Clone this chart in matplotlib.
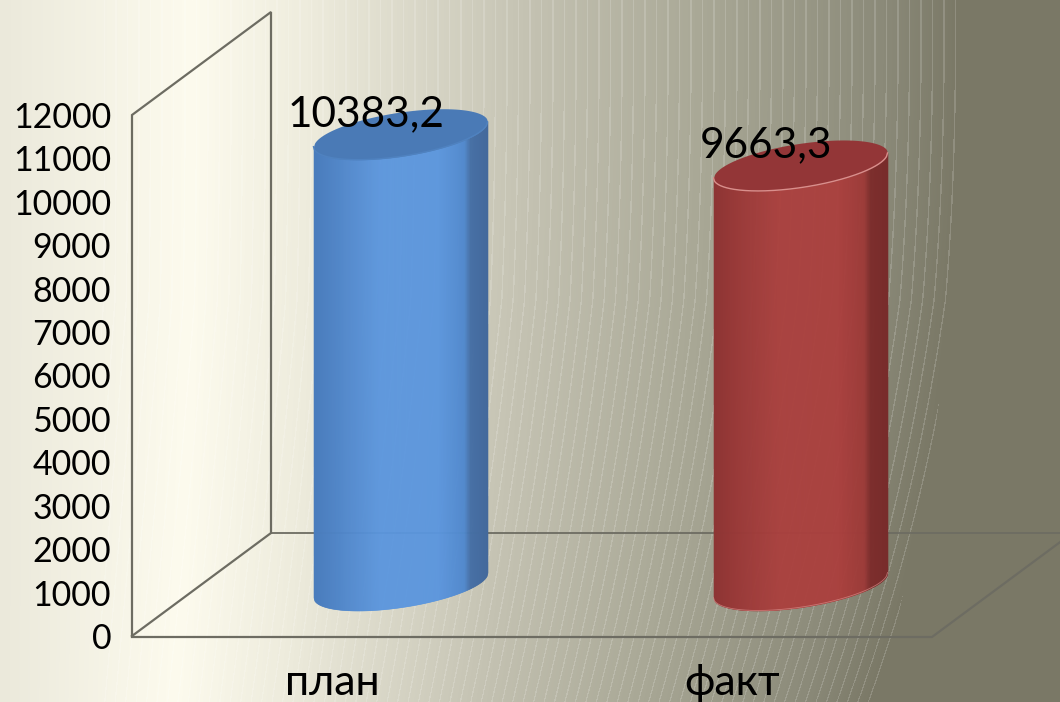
import matplotlib
matplotlib.use("Agg")
from matplotlib import pyplot
from matplotlib.colors import LinearSegmentedColormap, to_rgb
from matplotlib.transforms import Affine2D
import numpy

categories = ["план", "факт"]
values = [10383.2, 9663.3]
value_labels = ["10383,2", "9663,3"]
yticks = list(range(0, 13000, 1000))

side_pos = [0, 0.14, 0.38, 0.72, 0.87, 0.9, 1]
side_colors = [
    ["#4a7cbc", "#4f85c8", "#5b96de", "#5b96de", "#5189cd", "#4670a6", "#44699c"],
    ["#8d3534", "#9a3938", "#ab403e", "#ab403e", "#9c3b39", "#7d2e2d", "#782c2b"],
]
top_colors = ["#4a7ab6", "#933637"]
rim_colors = ["#4f82c0", "#d98f8c"]

W, H = 1060, 702
FONT = ["Lato", "Noto Sans", "DejaVu Sans"]
pyplot.rcParams["font.family"] = FONT


def background():
    yy, xx = numpy.mgrid[0:H, 0:W].astype(float)
    edge = 960 - 87 * (yy / H) ** 2.5
    t = numpy.clip(xx / edge, 0, 1)
    stops = [0, 0.2, 0.32, 0.55, 0.73, 0.92, 1]
    cols = ["#ebe9db", "#fdfbee", "#eeecdd", "#c4c2b2", "#a9a896", "#8b8a79", "#7a7866"]
    img = numpy.dstack([
        numpy.interp(t, stops, [to_rgb(c)[i] for c in cols]) for i in range(3)
    ])
    # thin pale streaks, slanting a bit towards the bottom
    phase = (xx * 960 / edge + 0.06 * numpy.clip(yy - 300, 0, None)) % 11.5
    streak = (phase < 1.4) * (xx < edge) * (xx > 100) * 0.16
    return img + (1 - img) * streak[..., None]


fig = pyplot.figure(figsize=(W / 100, H / 100), dpi=100)
bg = fig.add_axes([0, 0, 1, 1])
bg.imshow(background(), extent=(0, W, H, 0), aspect="auto", interpolation="nearest")
bg.set_xlim(0, W)
bg.set_ylim(H, 0)
bg.axis("off")

# walls and floor of the 3d box
line = dict(color="#6d6c62", lw=1.6, solid_joinstyle="miter")
bg.plot([132, 132, 271, 271, 132], [636, 115, 12, 533, 636], **line)
bg.plot([132, 932, 1071], [637, 637, 534], **line)
bg.plot([271, 1071], [533, 533], color="#6d6c62", lw=1.3)

left, right, top, bottom = 132, 932, 115, 636
ax = fig.add_axes([left / W, 1 - bottom / H, (right - left) / W, (bottom - top) / H])
ax.patch.set_alpha(0)
ax.set_xlim(0, 2)
ax.set_ylim(0, 12000)
for s in ax.spines.values():
    s.set_visible(False)
ax.set_yticks(yticks)
ax.set_xticks([0.5, 1.5])
ax.set_xticklabels(categories)
ax.tick_params(axis="y", length=0, pad=15, labelsize=24.5, labelcolor="black")
ax.tick_params(axis="x", length=0, pad=20, labelsize=31, labelcolor="black")

# columns sit halfway into the depth of the box
shift = Affine2D().translate(68.5, 51)
px_x = 2 / (right - left)
px_y = 12000 / (bottom - top)
half_w, slant, minor = 87, 12.5, 22.2

for i, val in enumerate(values):
    cat = i + 0.5
    tr = ax.transData + shift
    cmap = LinearSegmentedColormap.from_list("side", list(zip(side_pos, side_colors[i])))
    dx = numpy.linspace(-half_w, half_w, 176)
    c = dx / half_w
    low = slant * c - minor * numpy.sqrt(1 - c ** 2)
    up = slant * c + minor * numpy.sqrt(1 - c ** 2)
    x = cat + dx * px_x
    for k in range(len(dx) - 1):
        col = cmap((k + 0.5) / (len(dx) - 1))
        ax.fill_between(x[k:k + 2], low[k:k + 2] * px_y, val + low[k:k + 2] * px_y,
                        color=col, lw=0.4, transform=tr, clip_on=False, zorder=3)
    ax.fill_between(x, val + low * px_y, val + up * px_y, color=top_colors[i], lw=0,
                    transform=tr, clip_on=False, zorder=4)
    ax.plot(x, val + low * px_y, color=rim_colors[i], lw=1, transform=tr,
            clip_on=False, zorder=5)
    if i == 1:
        ax.plot(x, low * px_y, color=rim_colors[i], lw=0.6, alpha=0.7, transform=tr,
                clip_on=False, zorder=5)
    ax.annotate(value_labels[i], xy=(cat, val), xytext=(34 * 0.72, 71 * 0.72),
                textcoords="offset points", ha="center", va="center",
                fontsize=30.5, color="black", zorder=6, annotation_clip=False)

fig.savefig("out.png", dpi=100)
pyplot.close(fig)
